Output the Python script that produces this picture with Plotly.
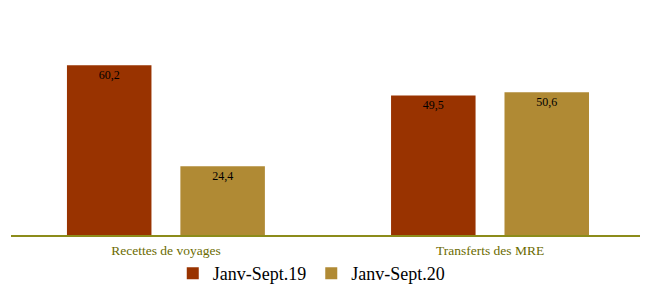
import plotly.graph_objects as go

categories = ["Recettes de voyages", "Transferts des MRE"]
series_names = ["Janv-Sept.19", "Janv-Sept.20"]
values_19 = [60.2, 49.5]
values_20 = [24.4, 50.6]
labels_19 = ["60,2", "49,5"]
labels_20 = ["24,4", "50,6"]

colors = ["#993300", "#b08a34"]
serif = "Liberation Serif"

fig = go.Figure()
for name, vals, labs, col in zip(series_names, [values_19, values_20], [labels_19, labels_20], colors):
    fig.add_trace(go.Bar(
        x=categories, y=vals, name=name, marker_color=col,
        marker_line_width=0,
        text=labs, textposition="inside", insidetextanchor="end",
        textangle=0,
        textfont=dict(family=serif, size=12, color="#000000"),
    ))

fig.update_layout(
    width=648, height=284,
    margin=dict(l=3, r=13, t=2, b=57, autoexpand=False),
    paper_bgcolor="white", plot_bgcolor="white",
    barmode="group", bargap=0.30, bargroupgap=0.255,
    showlegend=True,
    font=dict(family=serif),
    legend=dict(orientation="h", x=0.468, xanchor="center", xref="container",
                y=0.0, yanchor="bottom", yref="container",
                bgcolor="rgba(0,0,0,0)", itemwidth=30,
                font=dict(family=serif, size=18, color="#000000"),
                tracegroupgap=0),
    xaxis=dict(showline=True, linecolor="#8c8c1a", linewidth=1.5, ticks="",
               automargin=False, ticklabelstandoff=2,
               tickfont=dict(family=serif, size=13.5, color="#6b6b00"),
               range=[-0.478, 1.472], showgrid=False),
    yaxis=dict(range=[0, 79.8], visible=False, showgrid=False, automargin=False),
    uniformtext=dict(minsize=8, mode="show"),
)
fig.write_html("out.html")
